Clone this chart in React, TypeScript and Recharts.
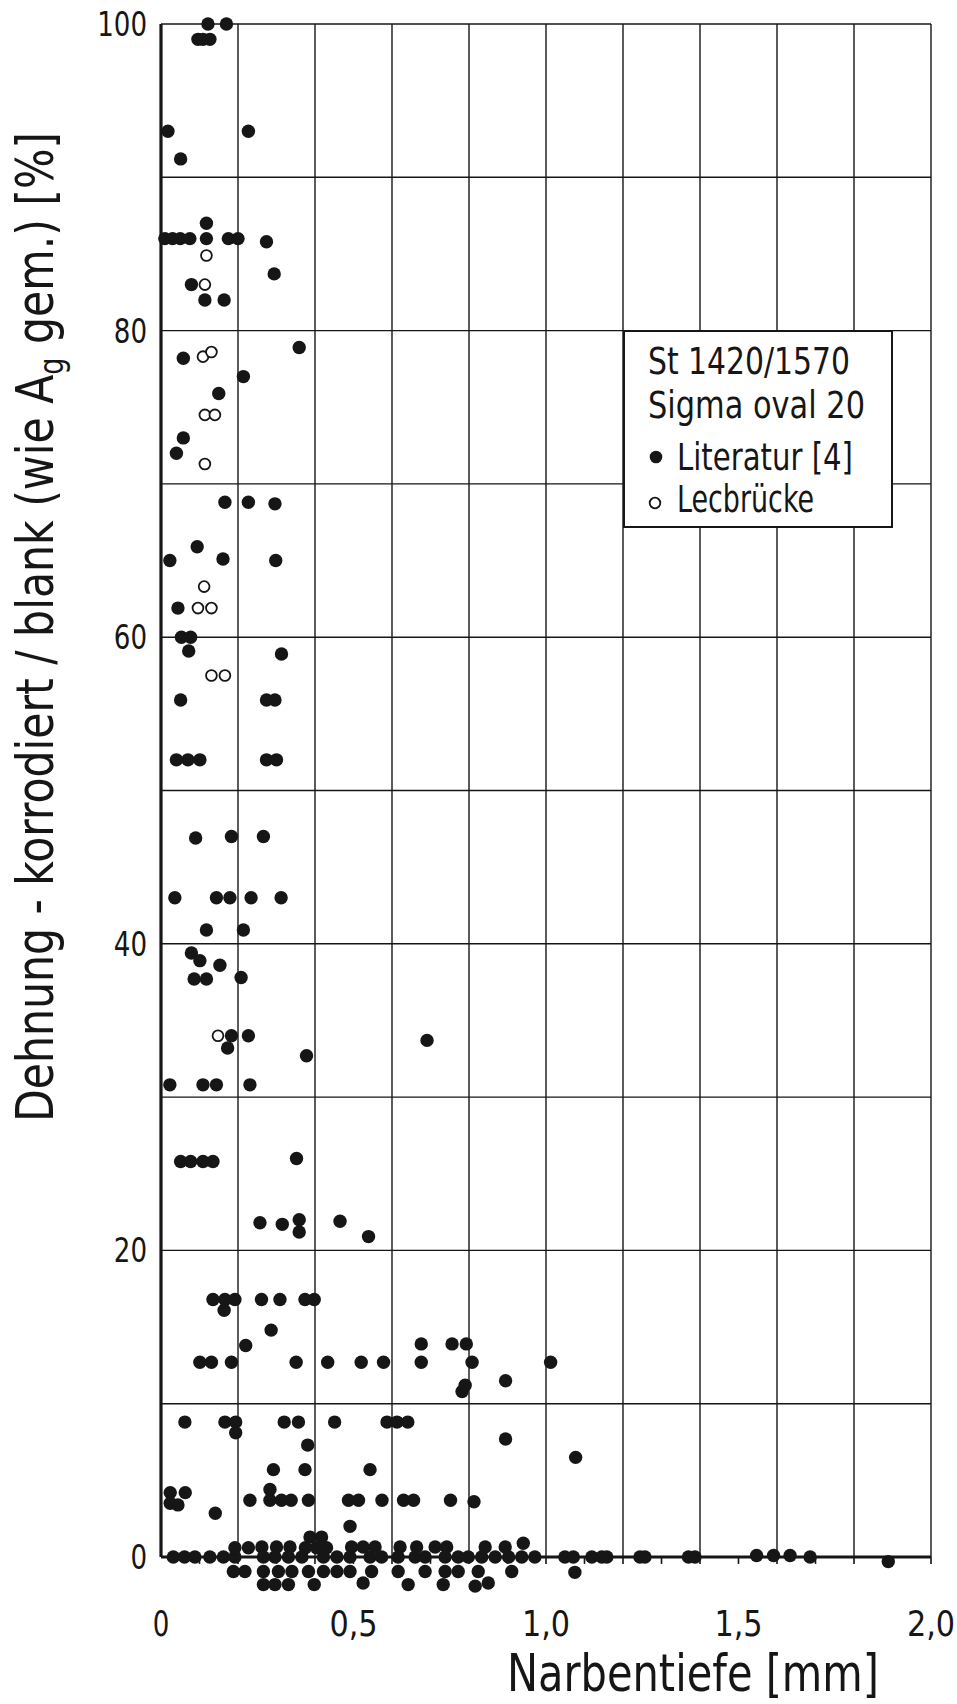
import React from 'react';
import { ScatterChart, Scatter, XAxis, YAxis, ReferenceLine, Legend, Label } from 'recharts';

const FONT = "'DejaVu Sans Condensed', 'DejaVu Sans', sans-serif";
const INK = '#161616';

// ---- data: [Narbentiefe mm, Dehnung %] ----
const literaturUpper: [number, number][] = [
  [0.122, 100], [0.17, 100], [0.096, 99], [0.109, 99], [0.127, 99],
  [0.018, 93], [0.227, 93], [0.051, 91.2],
  [0.01, 86], [0.03, 86], [0.05, 86], [0.075, 86], [0.118, 86], [0.175, 86], [0.2, 86], [0.274, 85.8],
  [0.118, 87], [0.079, 83], [0.294, 83.7], [0.114, 82], [0.164, 82],
  [0.359, 78.9], [0.058, 78.2], [0.214, 77], [0.15, 75.9], [0.058, 73], [0.04, 72],
  [0.166, 68.8], [0.227, 68.8], [0.296, 68.7],
  [0.023, 65], [0.094, 65.9], [0.161, 65.1], [0.298, 65],
  [0.044, 61.9], [0.053, 60], [0.077, 60], [0.072, 59.1], [0.313, 58.9],
  [0.051, 55.9], [0.274, 55.9], [0.296, 55.9],
  [0.04, 52], [0.07, 52], [0.101, 52], [0.274, 52], [0.3, 52],
];

const literaturMiddle: [number, number][] = [
  [0.09, 46.9], [0.183, 47], [0.266, 47],
  [0.036, 43], [0.144, 43], [0.179, 43], [0.234, 43], [0.312, 43],
  [0.118, 40.9], [0.214, 40.9],
  [0.079, 39.4], [0.101, 38.9], [0.153, 38.6],
  [0.086, 37.7], [0.118, 37.7], [0.208, 37.8],
  [0.183, 34], [0.227, 34], [0.173, 33.2], [0.378, 32.7], [0.691, 33.7],
  [0.023, 30.8], [0.109, 30.8], [0.144, 30.8], [0.231, 30.8],
  [0.051, 25.8], [0.077, 25.8], [0.109, 25.8], [0.135, 25.8], [0.352, 26],
  [0.257, 21.8], [0.315, 21.7], [0.359, 22], [0.359, 21.2], [0.465, 21.9], [0.539, 20.9],
  [0.135, 16.8], [0.166, 16.8], [0.192, 16.8], [0.261, 16.8], [0.309, 16.8], [0.374, 16.8], [0.398, 16.8],
  [0.164, 16.1], [0.286, 14.8], [0.22, 13.8],
  [0.101, 12.7], [0.131, 12.7], [0.183, 12.7], [0.351, 12.7], [0.433, 12.7], [0.52, 12.7], [0.578, 12.7],
  [0.676, 12.7], [0.808, 12.7], [1.012, 12.7],
  [0.676, 13.9], [0.756, 13.9], [0.793, 13.9],
  [0.782, 10.8], [0.79, 11.2], [0.895, 11.5],
];

const literaturLower: [number, number][] = [
  [0.062, 8.8], [0.166, 8.8], [0.194, 8.8], [0.32, 8.8], [0.357, 8.8], [0.451, 8.8], [0.587, 8.8], [0.613, 8.8], [0.641, 8.8],
  [0.194, 8.1], [0.381, 7.3], [0.895, 7.7],
  [0.292, 5.7], [0.374, 5.7], [0.543, 5.7], [1.077, 6.5],
  [0.024, 4.2], [0.063, 4.2], [0.024, 3.5], [0.044, 3.4], [0.141, 2.85],
  [0.231, 3.7], [0.283, 4.4], [0.283, 3.7], [0.313, 3.7], [0.338, 3.7], [0.383, 3.7], [0.487, 3.7], [0.513, 3.7],
  [0.574, 3.7], [0.63, 3.7], [0.656, 3.7], [0.752, 3.7], [0.813, 3.6],
  [0.491, 2.0],
];

const literaturBaseline: [number, number][] = [
  [0.032, 0], [0.061, 0], [0.088, 0], [0.127, 0], [0.162, 0], [0.192, 0],
  [0.192, 0.6], [0.227, 0.6], [0.262, 0.65], [0.3, 0.65], [0.335, 0.65],
  [0.375, 0.6], [0.404, 0.6], [0.43, 0.6], [0.387, 1.3], [0.417, 1.3],
  [0.266, 0], [0.296, 0], [0.331, 0], [0.366, 0], [0.422, 0], [0.457, 0],
  [0.188, -0.95], [0.218, -0.95], [0.266, -0.95], [0.305, -0.95], [0.34, -0.95], [0.383, -0.95], [0.422, -0.95], [0.457, -0.95],
  [0.266, -1.8], [0.296, -1.8], [0.331, -1.8], [0.398, -1.8],
  [0.495, 0.65], [0.525, 0.65], [0.556, 0.65], [0.621, 0.65], [0.664, 0.65], [0.712, 0.65], [0.742, 0.65],
  [0.842, 0.65], [0.894, 0.65], [0.941, 0.9],
  [0.491, 0], [0.543, 0], [0.573, 0], [0.616, 0], [0.66, 0], [0.686, 0], [0.738, 0], [0.772, 0], [0.798, 0],
  [0.833, 0], [0.868, 0], [0.903, 0], [0.937, 0], [0.971, 0],
  [0.491, -0.95], [0.547, -0.95], [0.616, -0.95], [0.686, -0.95], [0.738, -0.95], [0.772, -0.95], [0.824, -0.95], [0.911, -0.95],
  [0.525, -1.7], [0.642, -1.8], [0.733, -1.8], [0.816, -1.9], [0.85, -1.7],
  [1.049, 0], [1.071, 0], [1.075, -1.0], [1.119, 0], [1.145, 0], [1.158, 0], [1.244, 0], [1.257, 0], [1.37, 0], [1.387, 0],
  [1.547, 0.1], [1.591, 0.1], [1.634, 0.1], [1.686, 0], [1.889, -0.3],
];

const lecbrueckeData: [number, number][] = [
  [0.118, 84.9], [0.114, 83], [0.109, 78.3], [0.131, 78.6], [0.114, 74.5], [0.14, 74.5], [0.114, 71.3],
  [0.112, 63.3], [0.096, 61.9], [0.131, 61.9], [0.131, 57.5], [0.166, 57.5], [0.148, 34],
];

// ---- axes / grid ----
const xLabelTicks = [0, 0.5, 1, 1.5, 2];
const yLabelTicks = [0, 20, 40, 60, 80, 100];
const xGridLines = [0.2, 0.4, 0.6, 0.8, 1.0, 1.2, 1.4, 1.6, 1.8, 2.0];
const yGridLines = [10, 20, 30, 40, 50, 60, 70, 80, 90, 100];
const xMinorTicks = [0.1, 0.2, 0.3, 0.4, 0.5, 0.6, 0.7, 0.8, 0.9, 1.0, 1.1, 1.2, 1.3, 1.4, 1.5, 1.6, 1.7, 1.8, 1.9, 2.0];
const xDomain: [number, number] = [0, 2];
const yDomain: [number, number] = [-3, 100];
const LIT_NAME = 'Literatur [4]';
const LEC_NAME = 'Lecbrücke';
const legendTitle = ['St 1420/1570', 'Sigma oval 20'];

const toPoints = (rows: [number, number][]) => rows.map(([x, y]) => ({ x, y }));
const literaturPoints = toPoints([...literaturUpper, ...literaturMiddle, ...literaturLower, ...literaturBaseline]);
const lecbrueckePoints = toPoints(lecbrueckeData);

const fmtX = (v: number) => (v === 0 ? '0' : v.toFixed(1).replace('.', ','));
// narrow technical lettering: width per character
const labelWidth = (s: string) => s.split('').reduce((w, c) => w + (c === ',' ? 15 : 16.6), 0);

const FilledDot = (props: any) => <circle cx={props.cx} cy={props.cy} r={6.7} fill={INK} />;
const OpenDot = (props: any) => (
  <circle cx={props.cx} cy={props.cy} r={5.4} fill="#fff" stroke={INK} strokeWidth={1.8} />
);

const XTick = (props: any) => {
  const s = fmtX(props.payload.value);
  return (
    <text x={props.x} y={props.y + 27} textAnchor="middle" fontFamily={FONT} fontSize={36} fill={INK}
      textLength={labelWidth(s)} lengthAdjust="spacingAndGlyphs">
      {s}
    </text>
  );
};

const YTick = (props: any) => {
  const s = String(props.payload.value);
  return (
    <text x={props.x} y={props.y + 12} textAnchor="end" fontFamily={FONT} fontSize={33} fill={INK}
      textLength={labelWidth(s)} lengthAdjust="spacingAndGlyphs">
      {s}
    </text>
  );
};

const legendTextLen: Record<string, number> = {
  'St 1420/1570': 202,
  'Sigma oval 20': 217,
  [LIT_NAME]: 176,
  [LEC_NAME]: 137,
};

const LegendBox = (props: any) => {
  const payload = props.payload || [];
  const ordered = [LIT_NAME, LEC_NAME]
    .map((n) => payload.find((p: any) => p.value === n))
    .filter(Boolean);
  return (
    <div style={{ width: 270, height: 198, border: `2px solid ${INK}`, background: '#fff', boxSizing: 'border-box' }}>
      <svg width={266} height={194} style={{ display: 'block' }}>
        {legendTitle.map((t, i) => (
          <text key={t} x={23} y={42 + i * 44} fontFamily={FONT} fontSize={37} fill={INK}
            textLength={legendTextLen[t]} lengthAdjust="spacingAndGlyphs">
            {t}
          </text>
        ))}
        {ordered.map((p: any, i: number) => (
          <g key={p.value}>
            {p.value === LIT_NAME ? (
              <circle cx={31} cy={125 + i * 46} r={6.3} fill={INK} />
            ) : (
              <circle cx={30} cy={125 + i * 46} r={5.3} fill="#fff" stroke={INK} strokeWidth={1.8} />
            )}
            <text x={52} y={138 + i * 42} fontFamily={FONT} fontSize={37} fill={INK}
              textLength={legendTextLen[p.value]} lengthAdjust="spacingAndGlyphs">
              {p.value}
            </text>
          </g>
        ))}
      </svg>
    </div>
  );
};

const YTitle = () => (
  <text
    x={53}
    y={627}
    transform="rotate(-90, 53, 627)"
    textAnchor="middle"
    fontFamily={FONT}
    fontSize={52}
    fill={INK}
    textLength={990}
    lengthAdjust="spacingAndGlyphs"
  >
    Dehnung  -  korrodiert / blank (wie A
    <tspan fontSize={33} dy={10}>g</tspan>
    <tspan dy={-10}> gem.) [%]</tspan>
  </text>
);

const XTitle = () => (
  <text x={693} y={1691} textAnchor="middle" fontFamily={FONT} fontSize={52} fill={INK}
    textLength={372} lengthAdjust="spacingAndGlyphs">
    Narbentiefe [mm]
  </text>
);

export default function App() {
  return (
    <div style={{ position: 'absolute', left: 0, top: 0, width: 957, height: 1704, background: '#fff' }}>
      <ScatterChart width={957} height={1704} margin={{ top: 24, right: 26, bottom: 61, left: 0 }}>
        <XAxis
          type="number"
          dataKey="x"
          domain={xDomain}
          ticks={xLabelTicks}
          tickFormatter={fmtX}
          axisLine={false}
          tickLine={false}
          tickSize={6}
          tickMargin={0}
          height={40}
          tick={<XTick />}
        >
          <Label content={<XTitle />} />
        </XAxis>
        <YAxis
          type="number"
          dataKey="y"
          domain={yDomain}
          ticks={yLabelTicks}
          axisLine={false}
          tickLine={false}
          tickSize={6}
          tickMargin={8}
          width={161}
          tick={<YTick />}
        >
          <Label content={<YTitle />} />
        </YAxis>
        {yGridLines.map((v) => (
          <ReferenceLine key={'gy' + v} segment={[{ x: 0, y: v }, { x: 2, y: v }]} stroke={INK} strokeWidth={1.4} />
        ))}
        {xGridLines.map((v) => (
          <ReferenceLine key={'gx' + v} segment={[{ x: v, y: 0 }, { x: v, y: 100 }]} stroke={INK} strokeWidth={1.4} />
        ))}
        {xMinorTicks.map((v) => (
          <ReferenceLine key={'mt' + v} segment={[{ x: v, y: 0 }, { x: v, y: -0.45 }]} stroke={INK} strokeWidth={1.6} />
        ))}
        <ReferenceLine segment={[{ x: 0, y: 0 }, { x: 0, y: 100 }]} stroke={INK} strokeWidth={3.2} />
        <ReferenceLine segment={[{ x: 0, y: 0 }, { x: 2, y: 0 }]} stroke={INK} strokeWidth={3.2} />
        <Scatter name={LIT_NAME} data={literaturPoints} fill={INK} shape={FilledDot} isAnimationActive={false} />
        <Scatter name={LEC_NAME} data={lecbrueckePoints} fill="#fff" shape={OpenDot} isAnimationActive={false} />
        <Legend
          layout="horizontal"
          verticalAlign="middle"
          align="center"
          content={<LegendBox />}
          wrapperStyle={{ position: 'absolute', left: 623, top: 330, width: 270, height: 198 }}
        />
      </ScatterChart>
    </div>
  );
}
